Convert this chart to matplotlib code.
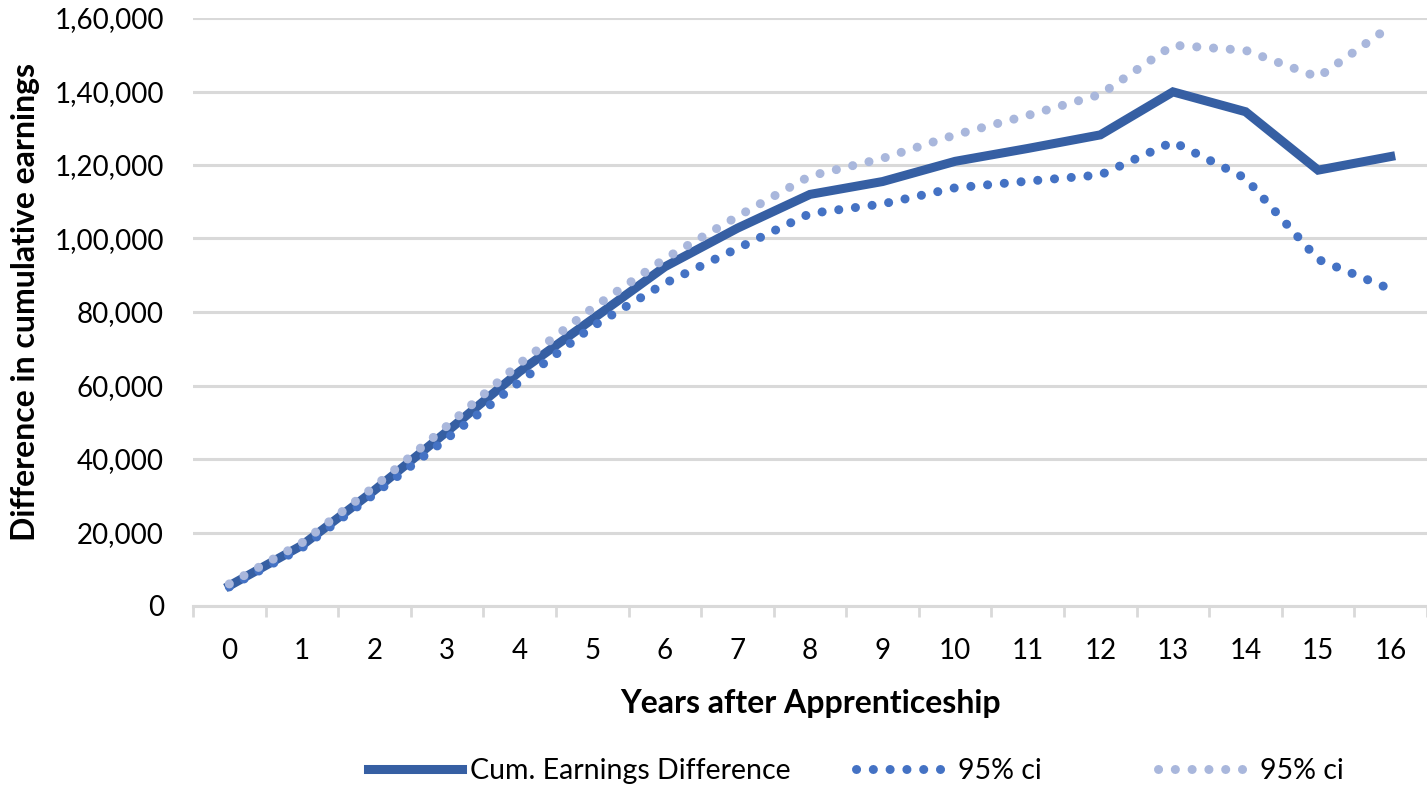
import matplotlib
matplotlib.use("Agg")
import matplotlib.pyplot as plt
import numpy as np

plt.rcParams['font.family'] = ['Lato', 'DejaVu Sans']

# ----- Data -----
years = list(range(17))
cum_diff = [5500, 16500, 31500, 47500, 63800, 78000, 92300, 102800, 112000,
            115500, 121000, 124500, 128200, 139900, 134500, 118600, 122300]
ci_low = [5200, 15800, 30500, 45600, 61000, 76000, 87800, 97300, 106800,
          109400, 113800, 115600, 117300, 126300, 116400, 94300, 86200]
ci_high = [6000, 17200, 32500, 49000, 66000, 81000, 94500, 106000, 117000,
           121800, 128200, 133500, 139200, 152600, 151200, 143900, 157800]
y_ticks = [0, 20000, 40000, 60000, 80000, 100000, 120000, 140000, 160000]
y_tick_labels = ['0', '20,000', '40,000', '60,000', '80,000', '1,00,000',
                 '1,20,000', '1,40,000', '1,60,000']

# ----- Styles -----
dark_blue = '#365FA3'
mid_blue = '#4472C4'
light_blue = '#A9B7DC'
grid_grey = '#D9D9D9'
dots = (0, (0.01, 1.85))

fig = plt.figure(figsize=(14.27, 7.87), dpi=100)
ax = fig.add_axes([193 / 1427, 181 / 787, 1234 / 1427, 588 / 787])

main_line, = ax.plot(years, cum_diff, color=dark_blue, lw=6.5,
                     solid_joinstyle='miter', zorder=3)
low_line, = ax.plot(years, ci_low, color=mid_blue, lw=6.5, linestyle=dots,
                    dash_capstyle='round', zorder=4)
high_line, = ax.plot(years, ci_high, color=light_blue, lw=6.5,
                     linestyle=dots, dash_capstyle='round', zorder=5)

ax.set_xlim(-0.5, 16.5)
ax.set_ylim(0, 160000)

# y axis
ax.set_yticks(y_ticks)
ax.set_yticklabels(y_tick_labels)
ax.tick_params(axis='y', length=0, pad=21, labelsize=20)
ax.yaxis.grid(True, color=grid_grey, lw=2.2)
ax.set_axisbelow(True)

# x axis: labels at categories, tick marks between them
ax.set_xticks(years)
ax.set_xticklabels([str(y) for y in years])
ax.set_xticks(np.arange(-0.5, 17, 1), minor=True)
ax.tick_params(axis='x', which='major', length=0, pad=23, labelsize=20)
ax.tick_params(axis='x', which='minor', length=8, width=2, color=grid_grey,
               direction='out')

for side in ['top', 'right', 'left']:
    ax.spines[side].set_visible(False)
ax.spines['bottom'].set_color(grid_grey)
ax.spines['bottom'].set_linewidth(2.2)

ax.set_xlabel('Years after Apprenticeship', fontsize=23, fontweight='bold')
ax.xaxis.set_label_coords(0.5, -0.141)
ax.set_ylabel('Difference in cumulative earnings', fontsize=23,
              fontweight='bold')
ax.yaxis.set_label_coords(-0.124, 0.517)

# legend entries placed like the Excel legend (uneven spacing)
entries = [(main_line, 'Cum. Earnings Difference', 368),
           (low_line, '95% ci', 856),
           (high_line, '95% ci', 1158)]
for handle, text, x_px in entries:
    leg = fig.legend([handle], [text], loc='center left',
                     bbox_to_anchor=(x_px / 1427, 16 / 787), frameon=False,
                     fontsize=20.5, handlelength=3.3, handletextpad=0.28,
                     borderpad=0, borderaxespad=0)

fig.savefig('out.png', dpi=100)
